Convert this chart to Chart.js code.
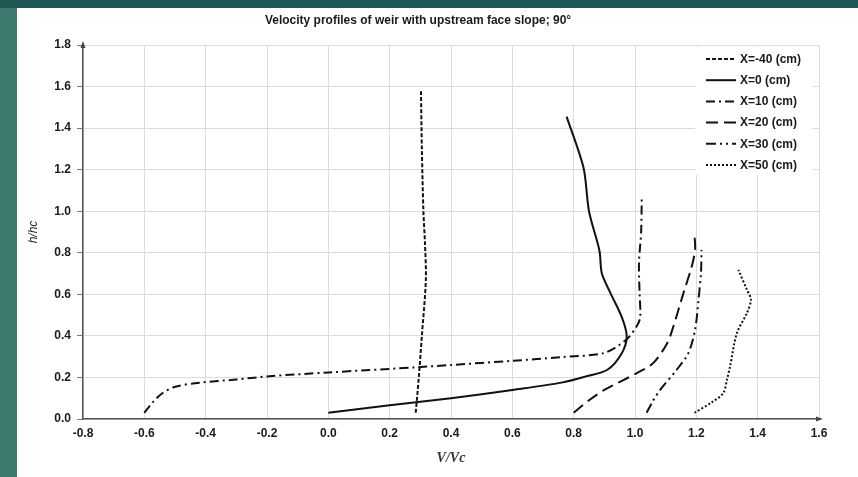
<!DOCTYPE html>
<html>
<head>
<meta charset="utf-8">
<script src="https://cdn.jsdelivr.net/npm/chart.js@4.4.1/dist/chart.umd.min.js"></script>
<style>
html, body { margin: 0; padding: 0; background: #3d7b70; }
#wrap { width: 858px; height: 477px; }
</style>
</head>
<body>
<div id="wrap"><canvas id="myChart" width="858" height="477"></canvas></div>
<script>
const chartTitle = 'Velocity profiles of weir with upstream face slope; 90°';
const seriesLabels = ['X=-40 (cm)', 'X=0 (cm)', 'X=10 (cm)', 'X=20 (cm)', 'X=30 (cm)', 'X=50 (cm)'];

// V/Vc (x) and h/hc (y) for each profile
const vM40 = [0.285, 0.295, 0.305, 0.318, 0.315, 0.31, 0.305, 0.302];
const hM40 = [0.03, 0.2, 0.4, 0.67, 0.85, 1.0, 1.3, 1.58];

const v0 = [0.0, 0.2, 0.4, 0.6, 0.76, 0.84, 0.91, 0.957, 0.973, 0.957, 0.92, 0.892, 0.884, 0.85, 0.832, 0.777];
const h0 = [0.03, 0.066, 0.10, 0.14, 0.175, 0.205, 0.237, 0.317, 0.397, 0.49, 0.606, 0.70, 0.81, 1.0, 1.21, 1.455];

const v10 = [-0.60, -0.57, -0.54, -0.50, -0.42, -0.3, -0.2, 0.0, 0.3, 0.4, 0.6, 0.76, 0.9, 0.97, 1.005, 1.017, 1.015, 1.013, 1.02, 1.022];
const h10 = [0.03, 0.085, 0.125, 0.155, 0.175, 0.19, 0.205, 0.224, 0.25, 0.26, 0.28, 0.298, 0.318, 0.38, 0.445, 0.49, 0.6, 0.75, 0.9, 1.063];

const v20 = [0.80, 0.85, 0.90, 1.005, 1.06, 1.105, 1.125, 1.158, 1.185, 1.196, 1.194];
const h20 = [0.03, 0.09, 0.14, 0.22, 0.27, 0.365, 0.445, 0.606, 0.734, 0.814, 0.886];

const v30 = [1.038, 1.06, 1.082, 1.136, 1.174, 1.196, 1.207, 1.215, 1.217];
const h30 = [0.03, 0.09, 0.14, 0.237, 0.317, 0.43, 0.574, 0.70, 0.814];

const v50 = [1.194, 1.25, 1.288, 1.30, 1.31, 1.332, 1.365, 1.378, 1.365, 1.337];
const h50 = [0.03, 0.08, 0.125, 0.19, 0.253, 0.413, 0.51, 0.574, 0.622, 0.718];

const dashes = [[4, 2], [], [9, 4, 2, 4], [12, 6], [10, 4, 2, 4, 2, 4], [2, 2]];

function pts(xs, ys) {
	return xs.map((x, i) => ({ x: x, y: ys[i] }));
}

const allV = [vM40, v0, v10, v20, v30, v50];
const allH = [hM40, h0, h10, h20, h30, h50];

const datasets = seriesLabels.map((lab, i) => ({
	label: lab,
	data: pts(allV[i], allH[i]),
	showLine: true,
	borderColor: '#111',
	borderWidth: 2,
	borderDash: dashes[i],
	pointRadius: 0,
	tension: 0.3,
	fill: false
}));

// slide background + white panel
const bgPlugin = {
	id: 'bg',
	beforeDraw(chart) {
		const c = chart.ctx;
		c.save();
		c.fillStyle = '#3d7b70';
		c.fillRect(0, 0, chart.width, chart.height);
		c.fillStyle = '#1e5753';
		c.fillRect(0, 0, chart.width, 8);
		c.fillStyle = '#ffffff';
		c.fillRect(17, 8, chart.width - 17, chart.height - 8);
		c.restore();
	}
};

// arrows on axes + legend box inside the plot
const extrasPlugin = {
	id: 'extras',
	afterDraw(chart) {
		const c = chart.ctx;
		const a = chart.chartArea;
		c.save();
		c.fillStyle = '#444';
		c.beginPath();
		c.moveTo(a.left, a.top - 4);
		c.lineTo(a.left - 2.5, a.top + 3);
		c.lineTo(a.left + 2.5, a.top + 3);
		c.fill();
		c.beginPath();
		c.moveTo(a.right + 4, a.bottom);
		c.lineTo(a.right - 3, a.bottom - 2.5);
		c.lineTo(a.right - 3, a.bottom + 2.5);
		c.fill();

		// legend
		c.fillStyle = '#ffffff';
		c.fillRect(695, 47, 117, 128);
		c.font = 'bold 12px "Liberation Sans", Arial, sans-serif';
		c.textBaseline = 'middle';
		c.textAlign = 'left';
		chart.data.datasets.forEach((ds, i) => {
			const y = 59 + i * 21.2;
			c.strokeStyle = '#111';
			c.lineWidth = 2;
			c.setLineDash(ds.borderDash);
			c.beginPath();
			c.moveTo(706, y);
			c.lineTo(736, y);
			c.stroke();
			c.setLineDash([]);
			c.fillStyle = '#1a1a1a';
			c.fillText(ds.label, 740, y + 0.5);
		});
		c.restore();
	}
};

const tickFont = { family: '"Liberation Sans", Arial, sans-serif', size: 12, weight: 'bold' };
function fmt(v) {
	return Math.abs(v) < 1e-9 ? '0.0' : Number(v).toFixed(1);
}

var ctx = document.getElementById('myChart').getContext('2d');
var chart = new Chart(ctx, {
	type: 'scatter',
	data: { datasets: datasets },
	plugins: [bgPlugin, extrasPlugin],
	options: {
		responsive: false,
		animation: false,
		layout: { padding: { left: 17, right: 39, top: 8, bottom: 0 } },
		plugins: {
			legend: { display: false },
			tooltip: { enabled: false },
			title: {
				display: true,
				text: chartTitle,
				color: '#1a1a1a',
				font: { family: '"Liberation Sans", Arial, sans-serif', size: 12, weight: 'bold' },
				padding: { top: 5, bottom: 17.6 }
			}
		},
		scales: {
			x: {
				type: 'linear',
				min: -0.8,
				max: 1.6,
				afterFit(s) { s.height = 58; },
				ticks: { stepSize: 0.2, callback: fmt, padding: 7, color: '#1a1a1a', font: tickFont, maxRotation: 0 },
				grid: { color: '#dcdcdc', drawTicks: false },
				border: { color: '#555', width: 1.5 },
				title: {
					display: true,
					text: 'V/Vc',
					color: '#333',
					font: { family: '"Liberation Serif", "Times New Roman", serif', size: 14, style: 'italic', weight: 'bold' },
					padding: { top: 0, bottom: 10 }
				}
			},
			y: {
				type: 'linear',
				min: 0,
				max: 1.8,
				afterFit(s) { s.width = 66; },
				ticks: { stepSize: 0.2, callback: fmt, padding: 6, color: '#1a1a1a', font: tickFont },
				grid: { color: '#dcdcdc', tickLength: 6, tickColor: '#777' },
				border: { color: '#555', width: 1.5 },
				title: {
					display: true,
					text: 'h/hc',
					color: '#222',
					font: { family: '"Liberation Sans", Arial, sans-serif', size: 12, style: 'italic' },
					padding: { top: 9, bottom: 0 }
				}
			}
		}
	}
});
</script>
</body>
</html>
